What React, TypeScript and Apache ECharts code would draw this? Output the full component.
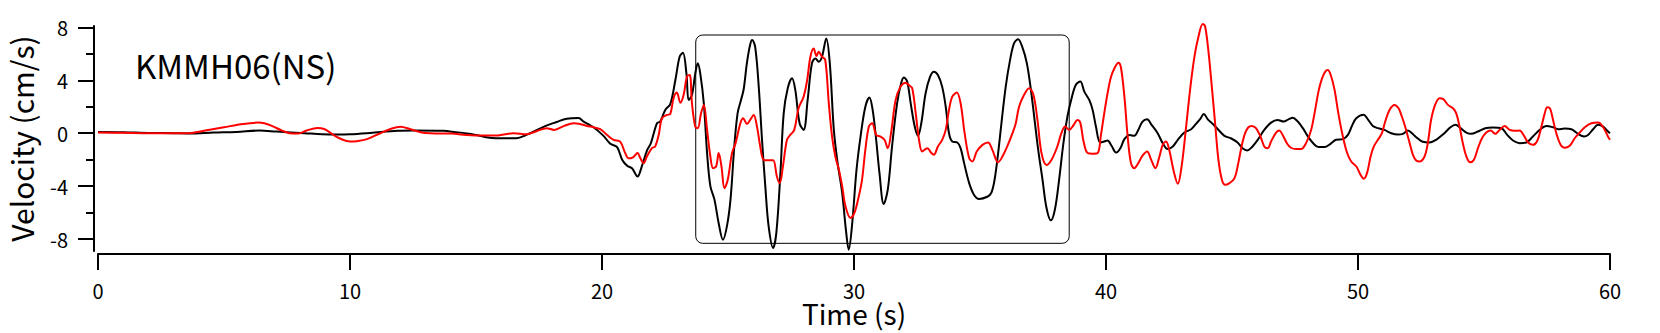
import React, { useEffect, useRef } from "react";
import * as echarts from "echarts";

const X_TICKS = [0, 10, 20, 30, 40, 50, 60];
const Y_MAJOR = [-8, -4, 0, 4, 8];
const Y_MINOR = [-6, -2, 2, 6];
const STATION_LABEL = "KMMH06(NS)";
const X_TITLE = "Time (s)";
const Y_TITLE = "Velocity (cm/s)";
const BOX_TIME = [23.72, 38.54];
const BOX_VELOCITY = [-8.32, 7.42];

// [time (s), velocity (cm/s)]
const BLACK_TRACE: [number, number][] = [
  [0, 0.1], [1, 0.08], [2, 0.02], [3, 0.0], [3.6, -0.02], [4.6, 0.05], [5.5, 0.1], [6.4, 0.2], [7.1, 0.12],
  [8.2, 0.0], [8.9, -0.08], [9.5, -0.1], [10.0, -0.08], [10.8, 0.02], [11.9, 0.18], [12.5, 0.2], [13.7, 0.18],
  [14.2, 0.08], [14.8, -0.05], [15.4, -0.3], [15.8, -0.38], [16.6, -0.38], [17.0, -0.13], [17.7, 0.5],
  [18.2, 0.85], [18.6, 1.1], [19.07, 1.15], [19.27, 0.88], [19.66, 0.45], [20.06, -0.2], [20.33, -0.8],
  [20.6, -1.05], [20.8, -2.0], [21.0, -2.46], [21.19, -2.65], [21.41, -3.27], [21.58, -2.5], [21.78, -1.33],
  [21.94, -0.75], [22.18, 0.75], [22.31, 0.88], [22.51, 1.76], [22.71, 2.2], [22.91, 4.0], [23.08, 5.78],
  [23.21, 6.08], [23.35, 4.52], [23.44, 2.5], [23.57, 2.9], [23.7, 4.5], [23.8, 5.28], [23.9, 4.5],
  [24.04, 2.26], [24.17, -1.5], [24.3, -4.0], [24.46, -5.0], [24.63, -6.8], [24.8, -8.05], [24.96, -7.0],
  [25.1, -5.0], [25.25, -1.0], [25.38, 1.5], [25.5, 2.4], [25.62, 3.3], [25.75, 5.3], [25.88, 6.7],
  [25.96, 7.05], [26.08, 6.5], [26.22, 3.5], [26.35, -0.5], [26.48, -4.0], [26.61, -7.0], [26.79, -8.67],
  [26.92, -7.5], [27.08, -3.0], [27.21, 1.5], [27.37, 3.4], [27.54, 4.15], [27.67, 3.27], [27.84, 0.75],
  [28.0, 0.25], [28.16, 2.5], [28.33, 5.28], [28.47, 5.65], [28.6, 5.4], [28.73, 5.78], [28.9, 7.16],
  [29.04, 5.28], [29.2, 0.25], [29.35, -2.26], [29.53, -4.5], [29.69, -7.5], [29.79, -8.8], [29.92, -7.0],
  [30.1, -2.76], [30.26, -0.25], [30.45, 2.0], [30.61, 2.7], [30.74, 1.76], [30.88, -0.5], [31.01, -3.0],
  [31.18, -5.35], [31.34, -4.27], [31.51, -1.0], [31.71, 2.26], [31.87, 3.77], [31.98, 4.2], [32.11, 3.9],
  [32.25, 2.26], [32.41, 0.5], [32.54, -0.2], [32.67, 0.75], [32.84, 3.0], [33.02, 4.27], [33.17, 4.65],
  [33.33, 4.4], [33.5, 3.5], [33.64, 2.0], [33.77, 0], [33.9, -0.63], [34.1, -0.7], [34.23, -1.13],
  [34.37, -2.26], [34.57, -3.77], [34.76, -4.65], [34.96, -4.97], [35.29, -4.8], [35.45, -4.5],
  [35.58, -3.5], [35.72, -1.5], [35.85, 0.75], [36.02, 3.5], [36.19, 5.5], [36.35, 6.78], [36.51, 7.1],
  [36.68, 6.5], [36.86, 5.28], [37.02, 3.27], [37.15, 1.26], [37.31, -1.26], [37.48, -3.5], [37.64, -5.65],
  [37.81, -6.58], [37.97, -5.78], [38.14, -3.5], [38.31, -0.75], [38.47, 1.26], [38.63, 2.6], [38.8, 3.64],
  [38.98, 3.9], [39.14, 3.14], [39.34, 2.5], [39.47, 1.76], [39.6, 0.5], [39.77, -0.7], [39.93, -0.63],
  [40.06, -0.55], [40.22, -0.95], [40.4, -1.46], [40.57, -1.13], [40.73, -0.45], [40.93, -0.13],
  [41.12, -0.2], [41.28, 0.25], [41.45, 0.88], [41.63, 1.05], [41.81, 0.63], [42.05, 0], [42.25, -0.75],
  [42.45, -1.2], [42.65, -1.0], [42.85, -0.5], [43.11, 0.05], [43.38, 0.3], [43.57, 0.7], [43.75, 1.1],
  [43.88, 1.46], [44.04, 1.05], [44.24, 0.7], [44.44, 0.3], [44.7, -0.2], [44.97, -0.4], [45.22, -0.7],
  [45.42, -1.13], [45.6, -1.3], [45.75, -1.13], [46.02, -0.5], [46.28, 0.25], [46.55, 0.8], [46.81, 1.0],
  [47.05, 0.88], [47.24, 1.05], [47.41, 1.16], [47.61, 0.88], [47.81, 0.38], [48.03, -0.3], [48.24, -0.8],
  [48.43, -1.05], [48.67, -1.05], [48.91, -0.8], [49.13, -0.5], [49.4, -0.45], [49.6, -0.13], [49.76, 0.55],
  [49.93, 1.13], [50.22, 1.4], [50.39, 1.05], [50.59, 0.55], [50.79, 0.38], [51.05, 0.25], [51.32, 0],
  [51.58, -0.1], [51.78, -0.05], [51.98, 0.2], [52.11, 0.05], [52.31, -0.3], [52.57, -0.65], [52.84, -0.7],
  [53.1, -0.5], [53.43, 0], [53.67, 0.45], [53.87, 0.63], [54.07, 0.38], [54.3, 0.05], [54.49, -0.05],
  [54.76, 0.13], [55.05, 0.38], [55.36, 0.43], [55.69, 0.38], [55.92, -0.13], [56.15, -0.55], [56.41, -0.75],
  [56.68, -0.7], [56.94, -0.25], [57.21, 0.25], [57.47, 0.55], [57.74, 0.45], [57.94, 0.3], [58.2, 0.35],
  [58.47, 0.3], [58.73, -0.05], [58.97, -0.25], [59.13, -0.13], [59.33, 0.3], [59.53, 0.63], [59.73, 0.5],
  [59.92, 0.13], [60.0, 0.0],
];

const RED_TRACE: [number, number][] = [
  [0, 0.05], [1, 0.03], [2.05, 0], [3.6, 0], [4.2, 0.18], [5.0, 0.45], [5.76, 0.7], [6.36, 0.8], [6.6, 0.75],
  [6.9, 0.55], [7.3, 0.2], [7.6, 0], [7.95, -0.03], [8.28, 0.2], [8.7, 0.4], [9.0, 0.3], [9.3, -0.08],
  [9.6, -0.4], [10.0, -0.63], [10.27, -0.6], [10.67, -0.45], [11.2, 0], [11.66, 0.35], [12.0, 0.48],
  [12.4, 0.3], [12.8, 0.08], [13.2, 0], [14.0, -0.03], [14.8, -0.15], [15.7, -0.18], [16.5, 0], [17.0, -0.08],
  [17.4, 0.15], [17.8, 0.38], [18.1, 0.25], [18.5, 0.55], [18.87, 0.75], [19.13, 0.7], [19.4, 0.55],
  [19.66, 0.45], [19.93, 0.3], [20.2, -0.13], [20.46, -0.5], [20.72, -0.63], [20.92, -1.5], [21.06, -1.9],
  [21.23, -1.82], [21.41, -1.5], [21.52, -1.88], [21.65, -2.26], [21.78, -1.76], [21.98, -1.13], [22.11, -1.0],
  [22.25, -0.13], [22.38, 1.13], [22.58, 1.38], [22.71, 1.46], [22.84, 2.64], [22.97, 3.07], [23.11, 2.3],
  [23.24, 2.9], [23.37, 4.27], [23.48, 4.4], [23.57, 2.26], [23.7, 0.5], [23.8, 0.38], [23.93, 1.5],
  [24.04, 2.14], [24.17, 0.25], [24.3, -1.76], [24.41, -2.64], [24.53, -2.5], [24.63, -1.5], [24.74, -2.5],
  [24.86, -4.15], [24.99, -3.52], [25.16, -1.5], [25.3, -0.75], [25.49, 0.75], [25.6, 1.13], [25.75, 0.7],
  [25.88, 1.0], [26.02, 1.38], [26.15, 0.5], [26.28, -1.0], [26.41, -2.0], [26.61, -2.05], [26.79, -2.05],
  [26.94, -3.27], [27.05, -3.77], [27.18, -2.5], [27.34, -0.5], [27.47, -0.13], [27.63, 0.25], [27.8, 1.88],
  [28.0, 2.76], [28.14, 4.0], [28.27, 5.78], [28.4, 6.4], [28.51, 5.83], [28.6, 6.15], [28.73, 5.78],
  [28.86, 5.53], [29.0, 2.26], [29.13, -0.25], [29.26, -1.76], [29.4, -2.76], [29.53, -4.0], [29.66, -5.5],
  [29.86, -6.4], [30.02, -6.0], [30.19, -4.77], [30.32, -3.5], [30.45, -1.26], [30.59, 0.5], [30.72, 0.75],
  [30.88, -0.13], [31.05, -0.25], [31.21, -0.5], [31.34, -1.13], [31.47, 0], [31.65, 2.5], [31.84, 3.5],
  [32.04, 3.82], [32.2, 3.6], [32.31, 3.4], [32.45, 1.5], [32.58, -0.5], [32.71, -1.38], [32.91, -1.13],
  [33.07, -1.5], [33.17, -1.63], [33.33, -1.0], [33.5, -0.5], [33.64, 0.25], [33.77, 1.76], [33.9, 2.76],
  [34.08, 3.07], [34.23, 2.26], [34.39, 0], [34.57, -1.88], [34.7, -2.14], [34.87, -1.38], [35.1, -0.88],
  [35.32, -0.7], [35.49, -1.26], [35.72, -2.2], [35.89, -1.76], [36.09, -0.95], [36.29, 0], [36.42, 0.75],
  [36.55, 2.0], [36.75, 2.9], [36.95, 3.4], [37.12, 2.9], [37.28, 1.0], [37.44, -1.5], [37.64, -2.4],
  [37.84, -2.0], [38.07, -1.0], [38.23, 0], [38.38, 0.5], [38.54, 0.25], [38.71, 0.6], [38.87, 1.0],
  [38.98, 0.8], [39.11, -0.63], [39.27, -1.5], [39.47, -1.55], [39.67, -1.5], [39.8, -0.13], [39.93, 1.5],
  [40.06, 3.0], [40.2, 4.27], [40.36, 5.0], [40.49, 5.33], [40.59, 5.0], [40.73, 2.76], [40.86, -0.25],
  [40.99, -2.26], [41.12, -2.64], [41.28, -2.26], [41.45, -1.7], [41.63, -1.38], [41.79, -2.0], [41.96, -2.64],
  [42.12, -1.76], [42.25, -0.88], [42.38, -0.63], [42.51, -1.26], [42.69, -2.9], [42.85, -3.82], [43.0, -2.5],
  [43.18, 0.5], [43.35, 3.5], [43.51, 5.78], [43.67, 7.3], [43.84, 8.25], [43.93, 8.1], [44.06, 6.28],
  [44.2, 3.5], [44.33, 0.75], [44.46, -2.0], [44.6, -3.52], [44.73, -3.9], [44.9, -3.77], [45.1, -3.4],
  [45.25, -2.26], [45.38, -1.0], [45.52, 0], [45.65, 0.45], [45.78, 0.55], [45.95, 0.38], [46.13, -0.25],
  [46.28, -1.0], [46.42, -1.13], [46.55, -0.63], [46.75, 0.05], [46.88, 0.2], [47.01, -0.13], [47.19, -0.8],
  [47.34, -1.1], [47.54, -1.2], [47.74, -1.2], [47.94, -0.75], [48.14, 0.25], [48.3, 1.76], [48.43, 3.14],
  [48.56, 4.07], [48.7, 4.65], [48.8, 4.77], [48.93, 4.32], [49.07, 3.27], [49.22, 1.5], [49.4, -0.25],
  [49.57, -1.5], [49.73, -2.14], [49.93, -2.5], [50.1, -3.14], [50.23, -3.44], [50.36, -3.0], [50.5, -1.76],
  [50.63, -1.0], [50.79, -0.5], [50.95, 0], [51.08, 0.88], [51.25, 1.76], [51.45, 2.14], [51.61, 1.88],
  [51.74, 1.26], [51.87, 0.5], [52.05, -0.75], [52.18, -1.63], [52.31, -2.06], [52.44, -2.14], [52.64, -1.76],
  [52.77, -0.75], [52.9, 1.0], [53.06, 2.14], [53.24, 2.64], [53.37, 2.6], [53.57, 2.14], [53.77, 1.88],
  [53.9, 1.5], [54.03, 0.5], [54.16, -0.75], [54.3, -1.76], [54.45, -2.2], [54.6, -2.0], [54.76, -1.13],
  [54.92, -0.38], [55.09, 0.05], [55.26, 0.2], [55.45, -0.05], [55.62, 0.25], [55.82, 0.55], [56.02, 0.25],
  [56.22, 0.18], [56.41, 0.2], [56.59, -0.2], [56.75, -0.7], [56.94, -0.88], [57.12, -0.55], [57.28, 0.5],
  [57.41, 1.5], [57.51, 1.96], [57.62, 1.88], [57.74, 1.0], [57.87, 0], [58.04, -0.88], [58.2, -1.1],
  [58.4, -0.95], [58.6, -0.38], [58.8, 0.05], [59.0, 0.45], [59.26, 0.75], [59.53, 0.8], [59.73, 0.45],
  [59.92, -0.25], [60.0, -0.5],
];

const FONT = "'Noto Sans CJK JP', 'Noto Sans', sans-serif";

export default function App() {
  const ref = useRef<HTMLDivElement>(null);
  useEffect(() => {
    document.body.style.margin = "0";
    if (!ref.current) return;
    const chart = echarts.init(ref.current, undefined, { renderer: "svg" });
    const yMin = -8.9;
    const yMax = 8.1;
    chart.setOption({
      animation: false,
      backgroundColor: "#fff",
      textStyle: { fontFamily: FONT, color: "#000" },
      title: {
        text: STATION_LABEL,
        left: 130,
        top: 43,
        textStyle: { fontFamily: FONT, fontSize: 33, fontWeight: "normal", color: "#000" },
      },
      grid: { left: 98, right: 50, top: 26, height: 225, outerBoundsMode: "none", containLabel: false },
      xAxis: {
        type: "value",
        min: X_TICKS[0],
        max: X_TICKS[X_TICKS.length - 1],
        interval: 10,
        offset: 3,
        name: X_TITLE,
        nameLocation: "middle",
        nameGap: 45,
        nameMoveOverlap: false,
        nameTextStyle: { fontFamily: FONT, fontSize: 28, lineHeight: 28, color: "#000" },
        axisLine: { onZero: false, lineStyle: { color: "#000", width: 2 } },
        axisTick: { length: 16, lineStyle: { color: "#000", width: 2 } },
        axisLabel: { fontFamily: FONT, fontSize: 20, lineHeight: 20, color: "#000", margin: 26 },
        splitLine: { show: false },
      },
      yAxis: [
        {
          type: "value",
          min: yMin,
          max: yMax,
          offset: 4,
          position: "left",
          name: Y_TITLE,
          nameLocation: "middle",
          nameGap: 58,
          nameMoveOverlap: false,
          nameTextStyle: { fontFamily: FONT, fontSize: 30, lineHeight: 30, color: "#000" },
          axisLine: { show: true, onZero: false, lineStyle: { color: "#000", width: 2 } },
          axisTick: { show: true, length: 16, customValues: Y_MAJOR, lineStyle: { color: "#000", width: 2 } },
          axisLabel: { fontFamily: FONT, fontSize: 20, lineHeight: 20, color: "#000", margin: 26, customValues: Y_MAJOR },
          splitLine: { show: false },
        },
        {
          type: "value",
          min: yMin,
          max: yMax,
          offset: 4,
          position: "left",
          axisLine: { show: false, onZero: false },
          axisTick: { show: true, length: 8, customValues: Y_MINOR, lineStyle: { color: "#000", width: 2 } },
          axisLabel: { show: false },
          splitLine: { show: false },
        },
      ],
      series: [
        {
          name: "black",
          type: "line",
          data: BLACK_TRACE,
          showSymbol: false,
          smooth: 0.35,
          clip: false,
          lineStyle: { color: "#000", width: 2 },
          z: 3,
        },
        {
          name: "red",
          type: "line",
          data: RED_TRACE,
          showSymbol: false,
          smooth: 0.35,
          clip: false,
          lineStyle: { color: "#ff0000", width: 2 },
          z: 4,
        },
      ],
    });
    const p1 = chart.convertToPixel({ xAxisIndex: 0, yAxisIndex: 0 }, [BOX_TIME[0], BOX_VELOCITY[1]]) as number[];
    const p2 = chart.convertToPixel({ xAxisIndex: 0, yAxisIndex: 0 }, [BOX_TIME[1], BOX_VELOCITY[0]]) as number[];
    chart.setOption({
      graphic: [
        {
          type: "rect",
          z: 1,
          shape: { x: p1[0], y: p1[1], width: p2[0] - p1[0], height: p2[1] - p1[1], r: 7 },
          style: { fill: "none", stroke: "#000", lineWidth: 1 },
        },
      ],
    });
    return () => chart.dispose();
  }, []);
  return <div ref={ref} style={{ width: 1660, height: 333 }} />;
}
